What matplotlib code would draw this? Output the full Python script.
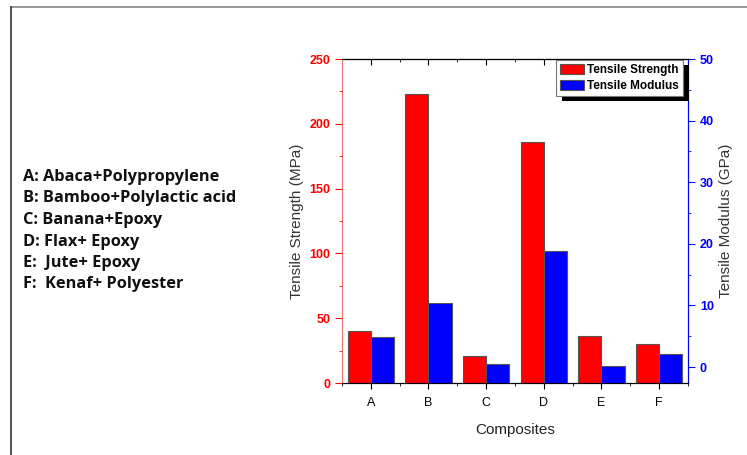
import numpy as np
import matplotlib
matplotlib.use("Agg")
import matplotlib.pyplot as plt
from matplotlib.lines import Line2D
from matplotlib.patches import Rectangle
from matplotlib.ticker import MultipleLocator

# data
categories = ["A", "B", "C", "D", "E", "F"]
strength_mpa = [40, 223, 21, 186, 36, 30]
modulus_gpa = [4.9, 10.4, 0.5, 18.8, 0.1, 2.1]
key_lines = [
    "A: Abaca+Polypropylene",
    "B: Bamboo+Polylactic acid",
    "C: Banana+Epoxy",
    "D: Flax+ Epoxy",
    "E:  Jute+ Epoxy",
    "F:  Kenaf+ Polyester",
]

plt.rcParams["font.family"] = ["Liberation Sans", "DejaVu Sans"]

fig = plt.figure(figsize=(7.47, 4.55), dpi=100)
ax = fig.add_axes([0.4578, 0.1582, 0.4632, 0.7121])
ax2 = ax.twinx()

x = np.arange(len(categories))
w = 0.4
s_lo, s_hi = 0, 250
m_lo, m_hi = -2.6, 50

ax.bar(x - w / 2, strength_mpa, width=w, color="#ff0000",
       edgecolor="#555555", linewidth=0.8, label="Tensile Strength", zorder=3)
ax2.bar(x + w / 2, np.array(modulus_gpa) - m_lo, width=w, bottom=m_lo,
        color="#0000ff", edgecolor="#555555", linewidth=0.8,
        label="Tensile Modulus", zorder=3)

ax.set_xlim(-0.5, 5.5)
ax.set_ylim(s_lo, s_hi)
ax2.set_ylim(m_lo, m_hi)

# x axis: ticks out at the bottom, in at the top
ax.set_xticks(x)
ax.set_xticklabels(categories, fontsize=9)
ax.xaxis.set_minor_locator(MultipleLocator(1, offset=0.5))
ax.tick_params(axis="x", which="major", direction="out", length=4, pad=6)
ax.tick_params(axis="x", which="minor", direction="out", length=2)
top = ax.secondary_xaxis("top")
top.set_xticks(x)
top.xaxis.set_minor_locator(MultipleLocator(1, offset=0.5))
top.tick_params(axis="x", which="major", direction="in", length=4,
                labeltop=False)
top.tick_params(axis="x", which="minor", direction="in", length=2)
ax.set_xlabel("Composites", fontsize=11, color="#222222", labelpad=10)

# left y axis
ax.yaxis.set_major_locator(MultipleLocator(50))
ax.yaxis.set_minor_locator(MultipleLocator(25))
ax.tick_params(axis="y", which="major", colors="#ff0000", length=5,
               labelsize=9)
ax.tick_params(axis="y", which="minor", colors="#ff0000", length=2.5)
for t in ax.get_yticklabels():
    t.set_fontweight("bold")
ax.set_ylabel("Tensile Strength (MPa)", fontsize=11, color="#333333",
              labelpad=4)
ax.spines["left"].set_color("#f07070")

# right y axis
ax2.yaxis.set_major_locator(MultipleLocator(10))
ax2.yaxis.set_minor_locator(MultipleLocator(5))
ax2.tick_params(axis="y", which="major", colors="#0000ff", length=5,
                labelsize=9)
ax2.tick_params(axis="y", which="minor", colors="#0000ff", length=2.5)
for t in ax2.get_yticklabels():
    t.set_fontweight("bold")
ax2.set_ylabel("Tensile Modulus (GPa)", fontsize=11, color="#333333",
               labelpad=4)
ax2.spines["right"].set_color("#0000ff")
ax2.spines["left"].set_visible(False)

# legend with a solid black drop shadow
h1, l1 = ax.get_legend_handles_labels()
h2, l2 = ax2.get_legend_handles_labels()
leg = ax2.legend(h1 + h2, l1 + l2, loc="upper right",
                 bbox_to_anchor=(0.985, 0.997), fancybox=False,
                 framealpha=1, facecolor="white",
                 prop={"weight": "bold", "size": 8.5}, handlelength=2.0,
                 handleheight=0.9, handletextpad=0.25, borderpad=0.35,
                 labelspacing=0.35, borderaxespad=0)
leg.get_frame().set_edgecolor("#777777")
leg.get_frame().set_linewidth(0.8)
leg.set_zorder(10)

fig.canvas.draw()
bb = leg.get_window_extent()
shadow = Rectangle((bb.x0 + 6, bb.y0 - 5), bb.width, bb.height,
                   transform=None, facecolor="black", edgecolor="none",
                   zorder=9, clip_on=False)
ax2.add_artist(shadow)

# composite key on the left
for i, line in enumerate(key_lines):
    fig.text(23 / 747, 1 - (177 + 21.5 * i) / 455, line, fontsize=11.8,
             fontweight="bold", family=["Open Sans", "DejaVu Sans"],
             color="#111111", va="center", ha="left")

# figure frame (top and left edges)
fig.add_artist(Line2D([11 / 747, 1], [1 - 7 / 455, 1 - 7 / 455],
                      color="#888888", linewidth=1.2))
fig.add_artist(Line2D([11 / 747, 11 / 747], [0, 1 - 7 / 455],
                      color="#333333", linewidth=1.2))

fig.savefig("out.png", dpi=100)
